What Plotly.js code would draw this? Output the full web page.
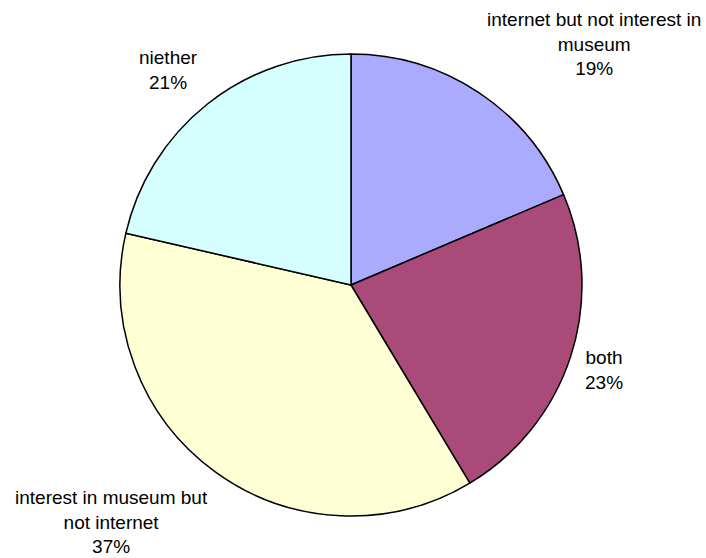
<!DOCTYPE html>
<html>
<head>
<meta charset="utf-8">
<script src="https://cdn.plot.ly/plotly-3.0.1.min.js"></script>
<style>html,body{margin:0;padding:0;background:#fff;}#chart{width:706px;height:558px;}</style>
</head>
<body>
<div id="chart"></div>
<script>
// Data
var categories = ["internet but not interest in museum", "both", "interest in museum but not internet", "niether"];
var values = [18.6, 22.8, 37.2, 21.4];
var labelText = ["internet but not interest in<br>museum", "both", "interest in museum but<br>not internet", "niether"];

// Styles / layout
var colors = ["#AAAAFF", "#A94A78", "#FFFFD5", "#D5FFFF"];
var W = 706, H = 558;
var cx = 351, cy = 285, r = 231;
var labelPos = [[594, 44], [604, 370], [111, 522], [168, 70]];

var total = values.reduce(function(a, b){ return a + b; }, 0);
var annotations = categories.map(function(c, i){
  return {
    xref: "paper", yref: "paper",
    x: labelPos[i][0] / W, y: 1 - labelPos[i][1] / H,
    xanchor: "center", yanchor: "middle",
    text: labelText[i] + "<br>" + Math.round(values[i] / total * 100) + "%",
    showarrow: false,
    align: "center",
    font: {family: "Liberation Sans, Arial, sans-serif", size: 19, color: "#000"}
  };
});

var trace = {
  type: "pie",
  labels: categories,
  values: values,
  sort: false,
  direction: "clockwise",
  rotation: 0,
  textinfo: "none",
  hoverinfo: "label+percent",
  marker: {colors: colors, line: {color: "#000", width: 1.5}},
  domain: {x: [(cx - r) / W, (cx + r) / W], y: [1 - (cy + r) / H, 1 - (cy - r) / H]},
  showlegend: false
};

Plotly.newPlot("chart", [trace], {
  width: W, height: H,
  margin: {l: 0, r: 0, t: 0, b: 0},
  paper_bgcolor: "#fff",
  showlegend: false,
  annotations: annotations
}, {displayModeBar: false, staticPlot: true});
</script>
</body>
</html>
